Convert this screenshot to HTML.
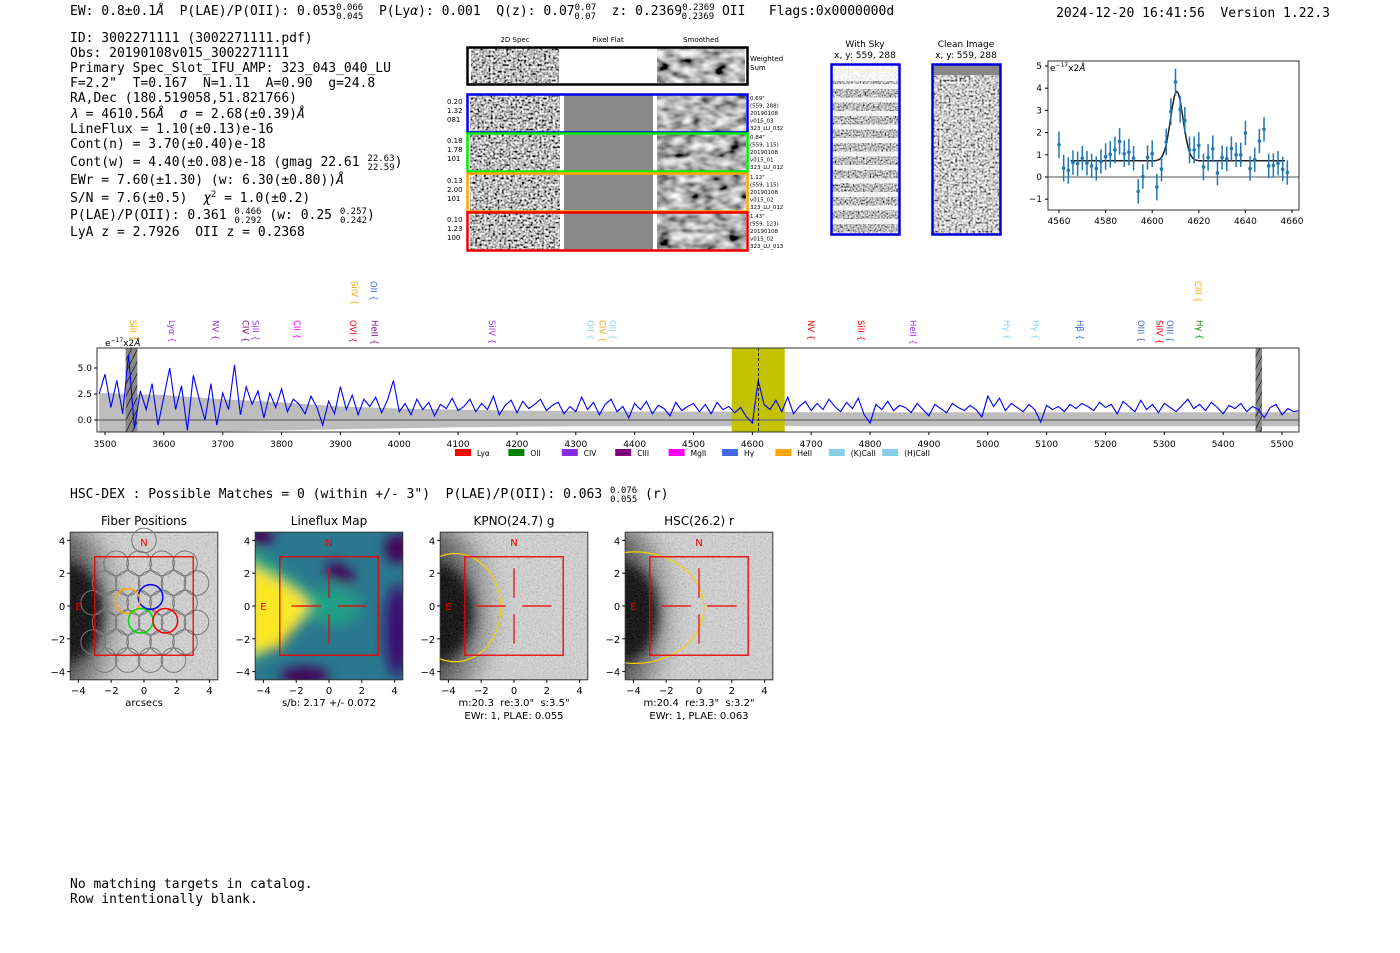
<!DOCTYPE html>
<html><head><meta charset="utf-8">
<style>
html,body{margin:0;padding:0;background:#fff;}
svg{display:block;}
text{white-space:pre;}
.mono{font-family:"DejaVu Sans Mono","Liberation Mono",monospace;font-size:13px;fill:#000;}
.sans{font-family:"DejaVu Sans","Liberation Sans",sans-serif;fill:#000;}
</style></head>
<body>
<svg id="root" width="1400" height="953" viewBox="0 0 1400 953" xmlns="http://www.w3.org/2000/svg" xml:space="preserve">
<defs>
<filter id="noise" x="0" y="0" width="100%" height="100%">
 <feTurbulence type="fractalNoise" baseFrequency="0.45" numOctaves="1" seed="3"/>
 <feColorMatrix type="saturate" values="0"/>
 <feComponentTransfer><feFuncR type="linear" slope="3.2" intercept="-1.1"/><feFuncG type="linear" slope="3.2" intercept="-1.1"/><feFuncB type="linear" slope="3.2" intercept="-1.1"/><feFuncA type="linear" slope="0" intercept="1"/></feComponentTransfer>
</filter>
<filter id="smooth" x="0" y="0" width="100%" height="100%">
 <feTurbulence type="fractalNoise" baseFrequency="0.07 0.12" numOctaves="2" seed="7"/>
 <feColorMatrix type="saturate" values="0"/>
 <feComponentTransfer><feFuncR type="linear" slope="2.2" intercept="-0.65"/><feFuncG type="linear" slope="2.2" intercept="-0.65"/><feFuncB type="linear" slope="2.2" intercept="-0.65"/><feFuncA type="linear" slope="0" intercept="1"/></feComponentTransfer>
</filter>
<filter id="fine" x="0" y="0" width="100%" height="100%">
 <feTurbulence type="fractalNoise" baseFrequency="0.6" numOctaves="1" seed="11"/>
 <feColorMatrix type="saturate" values="0"/>
 <feComponentTransfer><feFuncR type="linear" slope="2.6" intercept="-0.8"/><feFuncG type="linear" slope="2.6" intercept="-0.8"/><feFuncB type="linear" slope="2.6" intercept="-0.8"/><feFuncA type="linear" slope="0" intercept="1"/></feComponentTransfer>
</filter>
<filter id="blur4" x="-50%" y="-50%" width="200%" height="200%"><feGaussianBlur stdDeviation="6"/></filter>
<filter id="blur8" x="-50%" y="-50%" width="200%" height="200%"><feGaussianBlur stdDeviation="9"/></filter>
<radialGradient id="gal2" cx="0" cy="0.5" r="1">
 <stop offset="0" stop-color="#000"/><stop offset="0.45" stop-color="#111"/><stop offset="0.75" stop-color="#707070"/><stop offset="1" stop-color="#d0d0d0" stop-opacity="0"/>
</radialGradient>
<clipPath id="mainclip"><rect x="97" y="348" width="1202" height="84"/></clipPath>
<clipPath id="zclip"><rect x="1048" y="61" width="251" height="149"/></clipPath>
<pattern id="hatch" width="6" height="12" patternUnits="userSpaceOnUse"><rect width="6" height="12" fill="#888"/><line x1="0" y1="12" x2="6" y2="0" stroke="#333" stroke-width="1"/></pattern>
</defs>

<text class="mono" x="70" y="15">EW: 0.8±0.1<tspan font-style="italic">Å</tspan>  P(LAE)/P(OII): 0.053<tspan font-size="9" dy="-5">0.066</tspan><tspan font-size="9" dx="-27" dy="9">0.045</tspan><tspan dy="-4">  P(Ly</tspan><tspan font-style="italic">α</tspan>): 0.001  Q(z): 0.07<tspan font-size="9" dy="-5">0.07</tspan><tspan font-size="9" dx="-22" dy="9">0.07</tspan><tspan dy="-4">  z: 0.2369</tspan><tspan font-size="9" dy="-5">0.2369</tspan><tspan font-size="9" dx="-33" dy="9">0.2369</tspan><tspan dy="-4"> OII   Flags:0x0000000d</tspan></text>
<text class="mono" x="1330" y="17" text-anchor="end">2024-12-20 16:41:56  Version 1.22.3</text>

<g>
<text class="mono" x="70" y="42">ID: 3002271111 (3002271111.pdf)</text>
<text class="mono" x="70" y="57">Obs: 20190108v015_3002271111</text>
<text class="mono" x="70" y="72">Primary Spec_Slot_IFU_AMP: 323_043_040_LU</text>
<text class="mono" x="70" y="87">F=2.2"  T=0.167  N=1.11  A=0.90  g=24.8</text>
<text class="mono" x="70" y="102">RA,Dec (180.519058,51.821766)</text>
<text class="mono" x="70" y="118"><tspan font-style="italic">λ</tspan> = 4610.56<tspan font-style="italic">Å</tspan>  <tspan font-style="italic">σ</tspan> = 2.68(±0.39)<tspan font-style="italic">Å</tspan></text>
<text class="mono" x="70" y="133">LineFlux = 1.10(±0.13)e-16</text>
<text class="mono" x="70" y="148">Cont(n) = 3.70(±0.40)e-18</text>
<text class="mono" x="70" y="166">Cont(w) = 4.40(±0.08)e-18 (gmag 22.61 <tspan font-size="9" dy="-5">22.63</tspan><tspan font-size="9" dx="-27" dy="9">22.59</tspan><tspan dy="-4">)</tspan></text>
<text class="mono" x="70" y="184">EWr = 7.60(±1.30) (w: 6.30(±0.80))<tspan font-style="italic">Å</tspan></text>
<text class="mono" x="70" y="202">S/N = 7.6(±0.5)  <tspan font-style="italic">χ</tspan><tspan font-size="9" dy="-5">2</tspan><tspan dy="5"> = 1.0(±0.2)</tspan></text>
<text class="mono" x="70" y="219">P(LAE)/P(OII): 0.361 <tspan font-size="9" dy="-5">0.466</tspan><tspan font-size="9" dx="-27" dy="9">0.292</tspan><tspan dy="-4"> (w: 0.25 </tspan><tspan font-size="9" dy="-5">0.257</tspan><tspan font-size="9" dx="-27" dy="9">0.242</tspan><tspan dy="-4">)</tspan></text>
<text class="mono" x="70" y="236">LyA z = 2.7926  OII z = 0.2368</text>
</g>

<g class="sans">
<text x="515" y="42" font-size="7" text-anchor="middle">2D Spec</text>
<text x="608" y="42" font-size="7" text-anchor="middle">Pixel Flat</text>
<text x="701" y="42" font-size="7" text-anchor="middle">Smoothed</text>
<g>
<rect x="471" y="48" width="88" height="35" filter="url(#noise)"/>
<rect x="657" y="48" width="88" height="35" filter="url(#smooth)"/>
<rect x="467.5" y="47.5" width="280" height="37" fill="none" stroke="#000" stroke-width="2.5"/>
<text x="750" y="61" font-size="7">Weighted</text><text x="750" y="70" font-size="7">Sum</text>
</g>
<g id="rows"></g>
</g>

<g class="sans">
<text x="865" y="47" font-size="9" text-anchor="middle">With Sky</text>
<text x="865" y="58" font-size="9" text-anchor="middle">x, y: 559, 288</text>
<rect x="832" y="65" width="67" height="169" filter="url(#fine)"/>
<g id="skystripes"></g>
<rect x="831.5" y="64.5" width="68" height="170" fill="none" stroke="#0000dd" stroke-width="2.5"/>
</g>
<g class="sans">
<text x="966" y="47" font-size="9" text-anchor="middle">Clean Image</text>
<text x="966" y="58" font-size="9" text-anchor="middle">x, y: 559, 288</text>
<rect x="933" y="65" width="67" height="169" filter="url(#noise)" opacity="0.75"/>
<rect x="933" y="65" width="67" height="10" fill="#888"/>
<rect x="932.5" y="64.5" width="68" height="170" fill="none" stroke="#0000dd" stroke-width="2.5"/>
</g>

<g id="zoomplot" class="sans"></g>
<g id="mainplot" class="sans"></g>

<text class="mono" x="70" y="498">HSC-DEX : Possible Matches = 0 (within +/- 3")  P(LAE)/P(OII): 0.063 <tspan font-size="9" dy="-5">0.076</tspan><tspan font-size="9" dx="-27" dy="9">0.055</tspan><tspan dy="-4"> (r)</tspan></text>

<g id="cutouts" class="sans"></g>

<text class="mono" x="70" y="888">No matching targets in catalog.</text>
<text class="mono" x="70" y="903">Row intentionally blank.</text>
</svg>

<script>
const zoomWave = [4560,4562,4564,4566,4568,4570,4572,4574,4576,4578,4580,4582,4584,4586,4588,4590,4592,4594,4596,4598,4600,4602,4604,4606,4608,4610,4612,4614,4616,4618,4620,4622,4624,4626,4628,4630,4632,4634,4636,4638,4640,4642,4644,4646,4648,4650,4652,4654,4656,4658];
const zoomFlux = [1.45,0.4,0.3,0.65,0.6,0.85,0.62,0.5,0.38,0.7,0.92,1.02,1.22,1.6,1.05,1.12,0.85,-0.65,0.02,0.88,1.05,-0.45,0.35,1.58,2.95,4.28,3.05,2.55,1.22,1.22,1.42,0.45,0.88,1.27,0.18,0.88,0.82,1.28,1.0,1.0,1.98,0.38,0.78,1.62,2.15,0.5,0.52,0.62,0.35,0.2];
const zoomErr = [0.6,0.6,0.6,0.55,0.55,0.55,0.55,0.55,0.55,0.55,0.6,0.6,0.6,0.6,0.6,0.6,0.55,0.55,0.55,0.55,0.6,0.6,0.55,0.6,0.6,0.6,0.6,0.6,0.6,0.6,0.6,0.6,0.6,0.6,0.55,0.55,0.55,0.55,0.55,0.55,0.55,0.55,0.55,0.55,0.55,0.55,0.55,0.55,0.55,0.55];
const fitCenter = 4610.56, fitSigma = 2.68, fitCont = 0.73, fitAmp = 3.12;
const zoomXTicks = [4560,4580,4600,4620,4640,4660];
const zoomYTicks = [-1,0,1,2,3,4,5];

const specStart = 3490, specStep = 10;
const specFlux = [2.5,4.4,1.2,3.8,0.6,6.3,-0.8,2.8,1.0,3.5,-0.5,2.2,5.0,1.0,3.3,-1.0,4.3,2.0,0.0,3.5,-0.5,2.6,
1.0,5.3,0.5,3.2,1.5,2.8,0.2,2.6,1.2,3.0,0.8,2.0,1.5,0.6,2.3,1.2,-0.5,1.8,0.6,3.2,
1.0,2.4,0.5,2.0,1.3,2.2,0.7,1.9,3.8,0.8,1.6,0.5,2.0,1.0,1.7,0.4,1.5,1.1,2.1,0.9,
1.3,2.0,0.8,1.6,1.0,2.3,0.5,1.4,1.9,0.7,1.8,1.1,1.5,2.0,0.9,1.4,1.7,0.6,1.3,0.8,
2.2,1.0,1.7,0.5,1.5,2.0,0.8,1.3,0.2,1.6,1.0,1.8,0.6,1.4,1.1,0.4,1.7,0.9,1.3,1.6,
0.8,1.5,0.6,1.7,1.0,1.3,0.7,1.2,0.3,-0.3,3.8,1.5,1.0,1.9,0.8,2.2,0.6,1.3,1.8,0.9,
1.6,1.0,2.0,1.3,0.8,1.7,1.1,2.1,0.5,-0.3,1.5,1.0,1.8,0.9,1.4,1.2,0.7,1.6,1.0,0.4,
1.5,1.1,0.7,1.6,1.2,0.9,1.4,1.0,0.3,2.3,1.3,2.1,0.9,1.6,1.2,0.8,1.5,1.0,-0.2,1.4,
1.0,1.3,0.8,1.5,1.1,1.6,1.3,0.9,1.7,1.2,1.5,0.6,1.8,1.3,0.8,1.9,1.0,1.5,0.7,1.6,
1.2,0.8,1.4,2.0,1.1,1.5,0.9,1.7,1.2,0.6,1.4,1.1,1.6,0.8,1.3,1.0,0.2,1.2,1.5,0.5,1.1,0.8,0.9];
const bandWave = [3490,3600,3700,3800,3900,4000,4100,4200,4300,4400,4500,4600,4700,4800,4900,5000,5100,5200,5300,5400,5530];
const bandHigh = [2.6,2.4,2.0,1.7,1.3,1.1,1.0,0.9,0.85,0.8,0.8,0.8,0.75,0.75,0.75,0.75,0.75,0.75,0.75,0.75,0.75];
const bandLow = [-1.2,-1.2,-1.1,-1.0,-0.9,-0.8,-0.7,-0.65,-0.6,-0.6,-0.6,-0.6,-0.6,-0.6,-0.6,-0.6,-0.6,-0.6,-0.6,-0.6,-0.6];
const mainXTicks = [3500,3600,3700,3800,3900,4000,4100,4200,4300,4400,4500,4600,4700,4800,4900,5000,5100,5200,5300,5400,5500];
const mainYTicks = [0.0,2.5,5.0];
const lineNames = ["SiII","Lyα","NV","CIV","SiII","CII","OVI","SiIV","OII","HeII","SiIV","OII","CIV","OII","NV","SiII","HeII","Hγ","Hγ","Hβ","OIII","SiIV","OIII","CIII","Hγ"];
const lineWaves = [3548,3614,3688,3739,3756,3826,3921,3924,3956,3958,4158,4325,4345,4362,4700,4785,4873,5033,5081,5157,5260,5292,5310,5357,5360];
const lineColors = ["#ffa500","#9b30ff","#8a2be2","#800080","#9b30ff","#ff00ff","#ff0000","#ffa500","#4169e1","#800080","#9b30ff","#87cefa","#ffa500","#87cefa","#ff0000","#ff0000","#9b30ff","#87cefa","#87cefa","#4169e1","#4169e1","#ff0000","#4169e1","#ffa500","#008000"];
const lineRow = [0,0,0,0,0,0,0,1,1,0,0,0,0,0,0,0,0,0,0,0,0,0,0,1,0];
const legendNames = ["Lyα","OII","CIV","CIII","MgII","Hγ","HeII","(K)CaII","(H)CaII"];
const legendColors = ["#ff0000","#008000","#8a2be2","#800080","#ff00ff","#4169e1","#ffa500","#87ceeb","#87ceeb"];

const panelTitles = ["Fiber Positions","Lineflux Map","KPNO(24.7) g","HSC(26.2) r"];
const panelCaption1 = ["arcsecs","s/b: 2.17 +/- 0.072","m:20.3  re:3.0\"  s:3.5\"","m:20.4  re:3.3\"  s:3.2\""];
const panelCaption2 = ["","","EWr: 1, PLAE: 0.055","EWr: 1, PLAE: 0.063"];
const cutTicks = [-4,-2,0,2,4];
const fiberX = [-1.7,-0.3,1.1,2.5,-2.4,-1.0,0.4,1.8,3.2,-3.1,-1.7,-0.3,1.1,2.5,-2.4,-1.0,0.4,1.8,3.2,-3.1,-1.7,-0.3,1.1,2.5,-2.4,-1.0,0.4,1.8,0.0];
const fiberY = [2.6,2.6,2.6,2.6,1.4,1.4,1.4,1.4,1.4,0.2,0.2,0.2,0.2,0.2,-1.0,-1.0,-1.0,-1.0,-1.0,-2.2,-2.2,-2.2,-2.2,-2.2,-3.3,-3.3,-3.3,-3.3,4.0];
const hiFiberX = [0.4,-1.0,-0.2,1.3];
const hiFiberY = [0.55,0.3,-0.9,-0.9];
const hiFiberColors = ["#0000ff","#ffa500","#00dd00","#ff0000"];

const NS = "http://www.w3.org/2000/svg";
function mk(tag, attrs, parent){ const e=document.createElementNS(NS,tag); for(const k in attrs) e.setAttribute(k,attrs[k]); if(parent) parent.appendChild(e); return e; }

(function(){
  const rows = document.getElementById('rows');
  const rowY = [95,134,174,213];
  const rowCol = ["#0000ee","#00ee00","#ffa500","#ee0000"];
  const rowL = [["0.20","1.32","081"],["0.18","1.78","101"],["0.13","2.00","101"],["0.10","1.23","100"]];
  const rowR = [["0.69\"","(559, 288)","20190108","v015_03","323_LU_032"],["0.84\"","(559, 115)","20190108","v015_01","323_LU_012"],["1.12\"","(559, 115)","20190108","v015_02","323_LU_012"],["1.43\"","(559, 123)","20190108","v015_02","323_LU_013"]];
  for(let i=0;i<4;i++){
    const g = mk('g',{},rows);
    
    
    mk('rect',{x:470,y:rowY[i],width:90,height:37,filter:'url(#noise)'},g);
    mk('rect',{x:564,y:rowY[i],width:89,height:37,fill:'#8a8a8a'},g);
    mk('rect',{x:657,y:rowY[i],width:89,height:37,filter:'url(#smooth)'},g);
    mk('rect',{x:467.5,y:rowY[i]-0.5,width:280,height:38,fill:'none',stroke:rowCol[i],'stroke-width':2.5},g);
    rowL[i].forEach((t,j)=>{ const e=mk('text',{x:447,y:rowY[i]+9+j*9,'font-size':7},g); e.textContent=t; });
    rowR[i].forEach((t,j)=>{ const e=mk('text',{x:750,y:rowY[i]+5+j*7.5,'font-size':5.5},g); e.textContent=t; });
  }
  const sky = document.getElementById('skystripes');
  for(let k=0;k<12;k++){ mk('rect',{x:832,y:84+k*13.5,width:67,height:5,fill:'#fff',opacity:0.85},sky); }
  mk('rect',{x:832,y:65,width:67,height:16,fill:'#fff',opacity:0.85},sky);
})();

(function(){
  const g = document.getElementById('zoomplot');
  const zx = w => 1059 + (w-4560)*2.33;
  const zy = v => 177 - v*22.2;
  mk('rect',{x:1048,y:61,width:251,height:149,fill:'#fff'},g);
  const c = mk('g',{'clip-path':'url(#zclip)'},g);
  mk('line',{x1:1048,x2:1299,y1:zy(0),y2:zy(0),stroke:'#555','stroke-width':1},c);
  let d='';
  for(let w=4565; w<=4657; w+=0.5){ const v=fitCont+fitAmp*Math.exp(-0.5*Math.pow((w-fitCenter)/fitSigma,2)); d+=(d?'L':'M')+zx(w).toFixed(1)+','+zy(v).toFixed(1); }
  const fit = mk('path',{d:d,fill:'none',stroke:'#222','stroke-width':1.5},c);
  
  
  zoomWave.forEach((w,i)=>{
    const pt = mk('g',{},c);
    
    
    mk('line',{x1:zx(w),x2:zx(w),y1:zy(zoomFlux[i]-zoomErr[i]),y2:zy(zoomFlux[i]+zoomErr[i]),stroke:'#1f77b4','stroke-width':1.5},pt);
    mk('circle',{cx:zx(w),cy:zy(zoomFlux[i]),r:1.8,fill:'#1f77b4'},pt);
  });
  mk('rect',{x:1048,y:61,width:251,height:149,fill:'none',stroke:'#333','stroke-width':1},g);
  zoomXTicks.forEach(t=>{ mk('line',{x1:zx(t),x2:zx(t),y1:210,y2:213,stroke:'#000'},g); const e=mk('text',{x:zx(t),y:224,'font-size':9,'text-anchor':'middle'},g); e.textContent=t; });
  zoomYTicks.forEach(t=>{ mk('line',{x1:1045,x2:1048,y1:zy(t),y2:zy(t),stroke:'#000'},g); const e=mk('text',{x:1042,y:zy(t)+3,'font-size':9,'text-anchor':'end'},g); e.textContent=(t<0?'−'+(-t):t); });
  const u = mk('text',{x:1050,y:71,'font-size':9},g); u.innerHTML='e<tspan font-size="6" dy="-4">−17</tspan><tspan dy="4">x2</tspan><tspan font-style="italic">Å</tspan>';
})();

(function(){
  const g = document.getElementById('mainplot');
  const mx = w => 105 + (w-3500)*0.5885;
  const my = v => 420 - v*10.4;
  mk('rect',{x:97,y:348,width:1202,height:84,fill:'#fff'},g);
  const c = mk('g',{'clip-path':'url(#mainclip)'},g);
  let d='';
  bandWave.forEach((w,i)=>{ d+=(i?'L':'M')+mx(w)+','+my(bandHigh[i]); });
  for(let i=bandWave.length-1;i>=0;i--){ d+='L'+mx(bandWave[i])+','+my(bandLow[i]); }
  const band = mk('path',{d:d+'Z',fill:'#bdbdbd'},c);
  
  
  const hl = mk('rect',{x:mx(4565),y:348,width:mx(4655)-mx(4565),height:84,fill:'#c2c200'},c);
  
  
  mk('rect',{x:mx(3535),y:348,width:mx(3555)-mx(3535),height:84,fill:'url(#hatch)'},c);
  mk('rect',{x:mx(5455),y:348,width:mx(5466)-mx(5455),height:84,fill:'url(#hatch)'},c);
  mk('line',{x1:97,x2:1299,y1:my(0),y2:my(0),stroke:'#777','stroke-width':1.5},c);
  let s='';
  specFlux.forEach((v,i)=>{ const w=specStart+i*specStep; s+=(i?'L':'M')+mx(w).toFixed(1)+','+my(v).toFixed(1); });
  const sp = mk('path',{d:s,fill:'none',stroke:'#0000ff','stroke-width':1.1},c);
  
  
  mk('line',{x1:mx(4610.56),x2:mx(4610.56),y1:348,y2:432,stroke:'#000','stroke-dasharray':'3,2','stroke-width':0.8},c);
  mk('rect',{x:97,y:348,width:1202,height:84,fill:'none',stroke:'#333'},g);
  mainXTicks.forEach(t=>{ mk('line',{x1:mx(t),x2:mx(t),y1:432,y2:435,stroke:'#000'},g); const e=mk('text',{x:mx(t),y:447,'font-size':9,'text-anchor':'middle'},g); e.textContent=t; });
  mainYTicks.forEach(t=>{ mk('line',{x1:94,x2:97,y1:my(t),y2:my(t),stroke:'#000'},g); const e=mk('text',{x:92,y:my(t)+3,'font-size':9,'text-anchor':'end'},g); e.textContent=t.toFixed(1); });
  const u = mk('text',{x:105,y:346,'font-size':9},g); u.innerHTML='e<tspan font-size="6" dy="-4">−17</tspan><tspan dy="4">x2</tspan><tspan font-style="italic">Å</tspan>';
  lineNames.forEach((n,i)=>{
    const x = mx(lineWaves[i]);
    const yTop = lineRow[i] ? 281 : 320;
    const t = mk('text',{x:x,y:yTop,'font-size':8.5,fill:lineColors[i],transform:'rotate(90 '+x+' '+yTop+')',dy:'3'},g);
    
    
    t.textContent = n + ' {';
  });
  legendNames.forEach((n,i)=>{
    const x = 455 + i*53.4;
    const lg = mk('g',{},g);
    
    
    mk('rect',{x:x,y:449,width:16,height:7,fill:legendColors[i]},lg);
    const e=mk('text',{x:x+22,y:456,'font-size':7.5},lg); e.textContent=n;
  });
})();

(function(){
  const root = document.getElementById('cutouts');
  const centers = [144,329,514,699];
  const s = 16.4, cy0 = 606;
  for(let p=0;p<4;p++){
    const cx0 = centers[p];
    const X = a => cx0 + a*s, Y = a => cy0 - a*s;
    const g = mk('g',{},root);
    
    
    const cl = mk('clipPath',{id:'pc'+p},g); mk('rect',{x:X(-4.5),y:Y(4.5),width:9*s,height:9*s},cl);
    const im = mk('g',{'clip-path':'url(#pc'+p+')'},g);
    if(p===1){
      mk('rect',{x:X(-4.5),y:Y(4.5),width:9*s,height:9*s,fill:'#2a788e'},im);
      const b = mk('g',{filter:'url(#blur4)'},im);
      mk('polygon',{points:X(-5)+','+Y(3.6)+' '+X(-1)+','+Y(0.8)+' '+X(-0.3)+','+Y(0)+' '+X(-5)+','+Y(-3.8),fill:'#35b779'},b);
      mk('polygon',{points:X(-5)+','+Y(2.6)+' '+X(-2)+','+Y(0.9)+' '+X(-1.2)+','+Y(0)+' '+X(-3)+','+Y(-2.5)+' '+X(-5)+','+Y(-2.9),fill:'#fde725'},b);
      mk('ellipse',{cx:X(0.3),cy:Y(0),rx:1.6*s,ry:1.2*s,fill:'#22a884',opacity:0.8},b);
      mk('ellipse',{cx:X(0.7),cy:Y(2.0),rx:1.0*s,ry:0.5*s,fill:'#440154',transform:'rotate(30 '+X(0.7)+' '+Y(2.0)+')'},b);
      mk('ellipse',{cx:X(4.2),cy:Y(-1.5),rx:0.8*s,ry:2.8*s,fill:'#3b0f70'},b);
      mk('ellipse',{cx:X(4.2),cy:Y(3.5),rx:0.8*s,ry:0.9*s,fill:'#440154'},b);
      mk('ellipse',{cx:X(-1.5),cy:Y(-4.3),rx:1.5*s,ry:0.6*s,fill:'#440154'},b);
      mk('ellipse',{cx:X(-4.2),cy:Y(4.3),rx:0.8*s,ry:0.6*s,fill:'#440154'},b);
    } else {
      mk('rect',{x:X(-4.5),y:Y(4.5),width:9*s,height:9*s,fill:'#d2d2d2'},im);
      mk('ellipse',{cx:X(-4.8),cy:Y(-0.4),rx:(p===0?4.4:(p===2?4.8:4.2))*s,ry:5.2*s,fill:'url(#gal2)',filter:'url(#blur8)'},im);
      mk('ellipse',{cx:X(-4.8),cy:Y(-0.4),rx:2.3*s,ry:3.0*s,fill:'#000',filter:'url(#blur4)'},im);
      mk('rect',{x:X(-4.5),y:Y(4.5),width:9*s,height:9*s,filter:'url(#fine)',opacity:0.15},im);
    }
    mk('rect',{x:X(-4.5),y:Y(4.5),width:9*s,height:9*s,fill:'none',stroke:'#333'},g);
    if(p===0){
      fiberX.forEach((fx,i)=>{ const c=mk('circle',{cx:X(fx),cy:Y(fiberY[i]),r:0.75*s,fill:'none',stroke:'#777','stroke-width':1},g);   });
      hiFiberX.forEach((fx,i)=>{ const c=mk('circle',{cx:X(fx),cy:Y(hiFiberY[i]),r:0.75*s,fill:'none',stroke:hiFiberColors[i],'stroke-width':1.5},g);   });
    }
    if(p===2) mk('ellipse',{cx:X(-3.6),cy:Y(-0.1),rx:2.8*s,ry:3.3*s,fill:'none',stroke:'#f5d000','stroke-width':1.2,'clip-path':'url(#pc2)'},g);
    if(p===3) mk('ellipse',{cx:X(-3.9),cy:Y(-0.1),rx:4.2*s,ry:3.4*s,fill:'none',stroke:'#f5d000','stroke-width':1.2,'clip-path':'url(#pc3)'},g);
    mk('rect',{x:X(-3),y:Y(3),width:6*s,height:6*s,fill:'none',stroke:'#ee0000','stroke-width':1.3},g);
    if(p>0){
      [[-2.3,0,-0.5,0],[0.5,0,2.3,0],[0,2.3,0,0.5],[0,-0.5,0,-2.3]].forEach(l=>mk('line',{x1:X(l[0]),y1:Y(l[1]),x2:X(l[2]),y2:Y(l[3]),stroke:'#ee0000','stroke-width':1.2},g));
    }
    const n=mk('text',{x:X(0),y:Y(3.9)+4,'font-size':10,fill:'#ee0000','text-anchor':'middle'},g); n.textContent='N';
    const e=mk('text',{x:X(-4.0),y:Y(0)+4,'font-size':10,fill:'#ee0000','text-anchor':'middle'},g); e.textContent='E';
    const t=mk('text',{x:cx0,y:525,'font-size':12,'text-anchor':'middle'},g); t.textContent=panelTitles[p];
    cutTicks.forEach(v=>{
      mk('line',{x1:X(v),x2:X(v),y1:Y(-4.5),y2:Y(-4.5)+3,stroke:'#000'},g);
      const tx=mk('text',{x:X(v),y:Y(-4.5)+14,'font-size':10,'text-anchor':'middle'},g); tx.textContent=(v<0?'−'+(-v):v);
      mk('line',{x1:X(-4.5)-3,x2:X(-4.5),y1:Y(v),y2:Y(v),stroke:'#000'},g);
      const ty=mk('text',{x:X(-4.5)-5,y:Y(v)+4,'font-size':10,'text-anchor':'end'},g); ty.textContent=(v<0?'−'+(-v):v);
    });
    const c1=mk('text',{x:cx0,y:706,'font-size':10,'text-anchor':'middle'},g); c1.textContent=panelCaption1[p];
    if(panelCaption2[p]){ const c2=mk('text',{x:cx0,y:719,'font-size':10,'text-anchor':'middle'},g); c2.textContent=panelCaption2[p]; }
  }
})();
</script>
</body></html>
